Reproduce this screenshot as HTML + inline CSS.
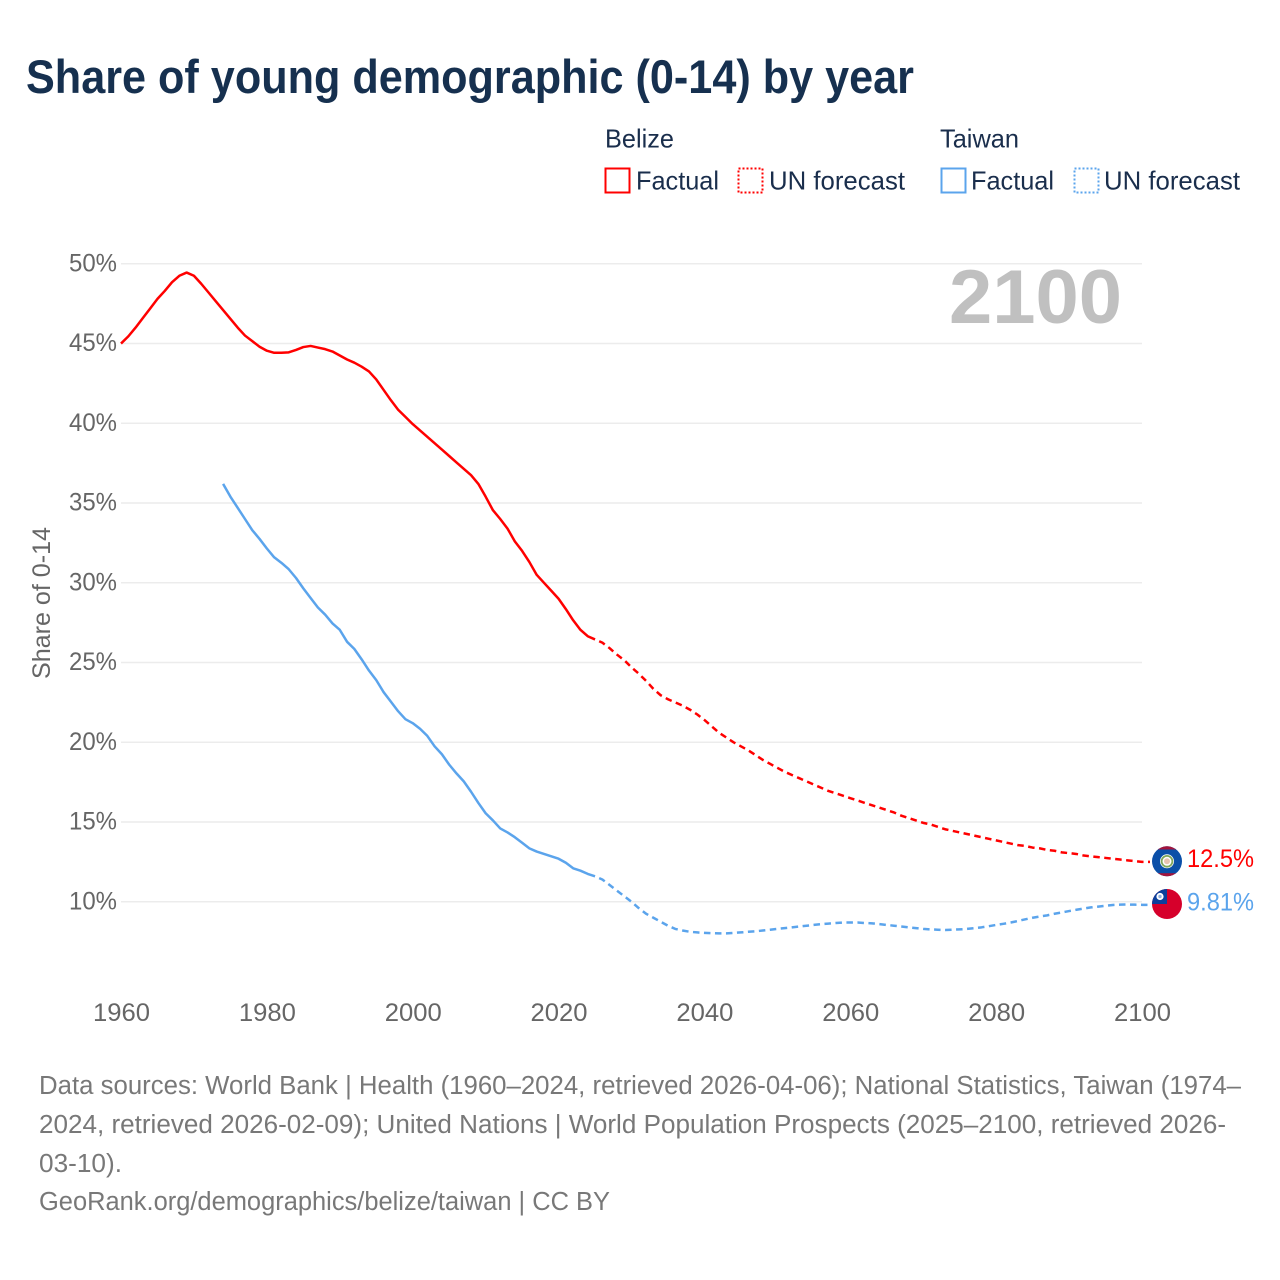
<!DOCTYPE html>
<html lang="en">
<head>
<meta charset="utf-8">
<title>Share of young demographic (0-14) by year</title>
<style>
html,body{margin:0;padding:0;background:#fff;width:1280px;height:1280px;overflow:hidden}
svg{display:block;font-family:"Liberation Sans",sans-serif}
.lg{font-size:26px;fill:#1a2e4c}
.ft{font-size:25.5px;fill:#787878}
.tk{font-size:25px;fill:#666}
</style>
</head>
<body>
<svg id="chart" width="1280" height="1280" viewBox="0 0 1280 1280" xmlns="http://www.w3.org/2000/svg">
  <text x="26" y="93" font-size="47" font-weight="700" fill="#16304f" textLength="888" lengthAdjust="spacingAndGlyphs">Share of young demographic (0-14) by year</text>

  <g>
    <text class="lg" x="605" y="147.5" textLength="69" lengthAdjust="spacingAndGlyphs">Belize</text>
    <rect x="605.5" y="168.5" width="24" height="24" fill="none" stroke="#ff0000" stroke-width="2"/>
    <text class="lg" x="636" y="189.5" textLength="83" lengthAdjust="spacingAndGlyphs">Factual</text>
    <rect x="738.5" y="168.5" width="24" height="24" fill="none" stroke="#ff0000" stroke-width="2" stroke-dasharray="2 2"/>
    <text class="lg" x="769" y="189.5" textLength="136" lengthAdjust="spacingAndGlyphs">UN forecast</text>
    <text class="lg" x="940" y="147.5" textLength="79" lengthAdjust="spacingAndGlyphs">Taiwan</text>
    <rect x="941.5" y="168.5" width="24" height="24" fill="none" stroke="#5ba4ec" stroke-width="2"/>
    <text class="lg" x="971" y="189.5" textLength="83" lengthAdjust="spacingAndGlyphs">Factual</text>
    <rect x="1074.5" y="168.5" width="24" height="24" fill="none" stroke="#5ba4ec" stroke-width="2" stroke-dasharray="2 2"/>
    <text class="lg" x="1104" y="189.5" textLength="136" lengthAdjust="spacingAndGlyphs">UN forecast</text>
  </g>

  <g id="grid"></g>
  <g id="yticks"></g>
  <g id="xticks"></g>
  <text x="949" y="323" font-size="76" font-weight="700" fill="#c0c0c0" textLength="173" lengthAdjust="spacingAndGlyphs">2100</text>
  <text transform="translate(50,603) rotate(-90)" text-anchor="middle" font-size="25" fill="#666" textLength="152" lengthAdjust="spacingAndGlyphs">Share of 0-14</text>
  <g id="series"></g>

  <defs>
    <clipPath id="clip-bz"><circle cx="1167" cy="861.3" r="15"/></clipPath>
    <clipPath id="clip-tw"><circle cx="1167" cy="904" r="15"/></clipPath>
  </defs>
  <g clip-path="url(#clip-bz)">
    <rect x="1152" y="846" width="30" height="31" fill="#0a4fa8"/>
    <rect x="1152" y="846" width="30" height="3.5" fill="#a3143c"/>
    <rect x="1152" y="873.2" width="30" height="4" fill="#a3143c"/>
    <circle cx="1167" cy="861.3" r="7" fill="#fff"/>
    <circle cx="1167" cy="861.3" r="5.4" fill="none" stroke="#7fa65a" stroke-width="1.8"/>
    <circle cx="1167" cy="861.3" r="3" fill="#e8c4b0"/>
  </g>
  <g clip-path="url(#clip-tw)">
    <rect x="1152" y="889" width="30" height="30" fill="#d6002b"/>
    <rect x="1152" y="889" width="15" height="15" fill="#0a3f9c"/>
    <circle cx="1160" cy="896.5" r="3.6" fill="#fff"/>
    <circle cx="1160" cy="896.5" r="1.7" fill="#8fb0e0"/>
  </g>

  <text id="label-bz" x="1187" y="867" font-size="25" fill="#ff0000" textLength="67" lengthAdjust="spacingAndGlyphs">12.5%</text>
  <text id="label-tw" x="1187" y="910.5" font-size="25" fill="#5ba4ec" textLength="67" lengthAdjust="spacingAndGlyphs">9.81%</text>

  <g>
    <text class="ft" x="39" y="1094" textLength="1202" lengthAdjust="spacingAndGlyphs">Data sources: World Bank | Health (1960–2024, retrieved 2026-04-06); National Statistics, Taiwan (1974–</text>
    <text class="ft" x="39" y="1133" textLength="1187" lengthAdjust="spacingAndGlyphs">2024, retrieved 2026-02-09); United Nations | World Population Prospects (2025–2100, retrieved 2026-</text>
    <text class="ft" x="39" y="1172" textLength="83" lengthAdjust="spacingAndGlyphs">03-10).</text>
    <text class="ft" x="39" y="1210" textLength="571" lengthAdjust="spacingAndGlyphs">GeoRank.org/demographics/belize/taiwan | CC BY</text>
  </g>
</svg>

<script>
const yTickValues = [10, 15, 20, 25, 30, 35, 40, 45, 50];
const xTickYears = [1960, 1980, 2000, 2020, 2040, 2060, 2080, 2100];

const belizeFactualStart = 1960;
const belizeFactual = [
  45.0,45.45,46.0,46.6,47.2,47.8,48.3,48.85,49.25,49.45,
  49.25,48.75,48.2,47.65,47.1,46.55,46.0,45.5,45.15,44.8,
  44.55,44.42,44.42,44.45,44.6,44.78,44.85,44.75,44.65,44.5,
  44.25,44.0,43.8,43.55,43.25,42.75,42.1,41.45,40.85,40.4,
  39.95,39.55,39.15,38.75,38.35,37.95,37.55,37.15,36.75,36.2,
  35.4,34.55,34.0,33.4,32.6,32.0,31.3,30.5,30.0,29.5,
  29.0,28.35,27.65,27.05,26.65,26.45
];
const belizeForecastStart = 2025;
const belizeForecast = [
  26.45,26.25,25.9,25.5,25.15,24.7,24.3,23.85,23.35,22.95,
  22.7,22.5,22.3,22.05,21.75,21.4,21.0,20.6,20.3,20.0,
  19.75,19.5,19.2,18.9,18.65,18.4,18.15,17.95,17.75,17.55,
  17.35,17.15,16.95,16.8,16.65,16.5,16.35,16.2,16.05,15.9,
  15.75,15.6,15.4,15.25,15.1,14.95,14.85,14.7,14.55,14.45,
  14.35,14.25,14.15,14.05,13.95,13.85,13.75,13.65,13.55,13.5,
  13.4,13.35,13.25,13.2,13.1,13.05,13.0,12.9,12.85,12.8,
  12.75,12.7,12.65,12.6,12.55,12.5
];

const taiwanFactualStart = 1974;
const taiwanFactual = [
  36.2,35.4,34.7,34.0,33.3,32.75,32.15,31.6,31.25,30.85,
  30.3,29.65,29.05,28.45,28.0,27.45,27.05,26.3,25.85,25.2,
  24.5,23.9,23.15,22.55,21.95,21.45,21.2,20.85,20.4,19.75,
  19.25,18.6,18.05,17.55,16.9,16.2,15.55,15.1,14.6,14.35,
  14.05,13.7,13.35,13.15,13.0,12.85,12.7,12.45,12.1,11.95,
  11.75,11.6
];
const taiwanForecastStart = 2025;
const taiwanForecast = [
  11.6,11.4,11.05,10.7,10.35,10.0,9.6,9.25,9.0,8.75,
  8.5,8.3,8.2,8.12,8.08,8.05,8.03,8.02,8.02,8.05,
  8.08,8.12,8.15,8.2,8.25,8.3,8.35,8.4,8.45,8.5,
  8.55,8.6,8.63,8.67,8.7,8.7,8.7,8.67,8.65,8.6,
  8.55,8.5,8.45,8.4,8.35,8.3,8.27,8.25,8.23,8.25,
  8.27,8.3,8.35,8.4,8.47,8.55,8.62,8.7,8.8,8.9,
  9.0,9.08,9.15,9.25,9.33,9.42,9.5,9.58,9.65,9.7,
  9.75,9.8,9.82,9.83,9.82,9.81
];

const SVGNS = 'http://www.w3.org/2000/svg';
const xMin = 121, xMax = 1142, yearMin = 1960, yearMax = 2100;
const yAt10 = 901.8, pxPerPct = 15.95;
const endX = 1150;

function xScale(year) { return xMin + (year - yearMin) * (xMax - xMin) / (yearMax - yearMin); }
function yScale(pct) { return yAt10 - (pct - 10) * pxPerPct; }

function linePath(start, values, extendToX) {
  let d = values.map(function (v, i) {
    return (i ? 'L' : 'M') + xScale(start + i).toFixed(2) + ' ' + yScale(v).toFixed(2);
  }).join(' ');
  if (extendToX) d += ' L' + extendToX + ' ' + yScale(values[values.length - 1]).toFixed(2);
  return d;
}

const gridGroup = document.getElementById('grid');
const yTickGroup = document.getElementById('yticks');
const xTickGroup = document.getElementById('xticks');
const seriesGroup = document.getElementById('series');

yTickValues.forEach(function (v) {
  const ln = document.createElementNS(SVGNS, 'line');
  
  
  ln.setAttribute('x1', xMin);
  ln.setAttribute('x2', xMax);
  ln.setAttribute('y1', yScale(v));
  ln.setAttribute('y2', yScale(v));
  ln.setAttribute('stroke', '#ececec');
  ln.setAttribute('stroke-width', '1.5');
  gridGroup.appendChild(ln);

  const t = document.createElementNS(SVGNS, 'text');
  
  
  t.setAttribute('class', 'tk');
  t.setAttribute('x', 69);
  t.setAttribute('y', yScale(v) + 7.5);
  t.setAttribute('textLength', 48);
  t.setAttribute('lengthAdjust', 'spacingAndGlyphs');
  t.textContent = v + '%';
  yTickGroup.appendChild(t);
});

xTickYears.forEach(function (yr) {
  const t = document.createElementNS(SVGNS, 'text');
  
  
  t.setAttribute('class', 'tk');
  t.setAttribute('x', xScale(yr) - 28);
  t.setAttribute('y', 1021);
  t.setAttribute('textLength', 57);
  t.setAttribute('lengthAdjust', 'spacingAndGlyphs');
  t.textContent = yr;
  xTickGroup.appendChild(t);
});

function addLine(name, d, color, dash) {
  const p = document.createElementNS(SVGNS, 'path');
  
  
  p.setAttribute('d', d);
  p.setAttribute('fill', 'none');
  p.setAttribute('stroke', color);
  p.setAttribute('stroke-width', '2.5');
  p.setAttribute('stroke-linejoin', 'round');
  if (dash) {
    p.setAttribute('stroke-dasharray', dash);
    p.setAttribute('stroke-dashoffset', '6.5');
  }
  seriesGroup.appendChild(p);
}

addLine('belize-factual-line', linePath(belizeFactualStart, belizeFactual), '#ff0000');
addLine('belize-forecast-line', linePath(belizeForecastStart, belizeForecast, endX), '#ff0000', '6.5 4.5');
addLine('taiwan-factual-line', linePath(taiwanFactualStart, taiwanFactual), '#5ba4ec');
addLine('taiwan-forecast-line', linePath(taiwanForecastStart, taiwanForecast, endX), '#5ba4ec', '6.5 4.5');
</script>
</body>
</html>
